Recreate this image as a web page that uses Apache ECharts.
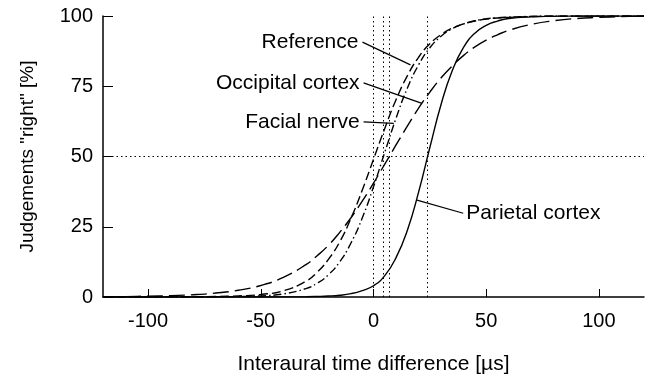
<!DOCTYPE html>
<html>
<head>
<meta charset="utf-8">
<script src="https://cdn.jsdelivr.net/npm/echarts@6/dist/echarts.min.js"></script>
<style>
  html, body { margin: 0; padding: 0; background: #fff; }
  #chart { width: 652px; height: 377px; }
</style>
</head>
<body>
<div id="chart"></div>
<script>
// interaural time difference (µs)
const itd = [-120, -110, -100, -90, -80, -70, -60, -50, -40, -30, -25, -20, -15, -10, -5, 0, 5, 10, 15, 20, 25, 30, 35, 40, 45, 50, 55, 60, 70, 80, 90, 100, 110, 120];

// judgements "right" (%)
const reference = [0, 0, 0, 0.05, 0.07, 0.17, 0.4, 0.9, 2.2, 5.6, 8.8, 13.4, 19.6, 28, 38, 49, 60, 70.2, 78.7, 85.3, 90.1, 93.4, 95.7, 97.2, 98.2, 98.9, 99.3, 99.5, 99.8, 100, 100, 100, 100, 100];
const occipital = [0.1, 0.15, 0.3, 0.5, 0.8, 1.4, 2.4, 4.1, 7, 11.5, 14.7, 18.4, 23, 28.2, 34.1, 40.5, 47.3, 54.1, 60.8, 67.2, 72.9, 78, 82.3, 86, 89, 91.4, 93.3, 94.9, 97, 98.3, 99.1, 99.5, 99.8, 100];
const facial = [0, 0, 0, 0, 0.02, 0.06, 0.15, 0.4, 1.1, 3, 4.9, 7.9, 12.5, 19.2, 28.1, 39.2, 51.5, 63.6, 74.3, 82.6, 88.7, 92.8, 95.5, 97.2, 98.3, 99, 99.4, 99.6, 99.9, 100, 100, 100, 100, 100];
const parietal = [0, 0, 0, 0, 0, 0, 0, 0, 0.03, 0.09, 0.18, 0.33, 0.62, 1.2, 2.3, 4, 7.6, 14, 23.7, 37.3, 53.2, 68.6, 80.7, 88.9, 93.9, 96.7, 98.2, 99.1, 99.7, 99.9, 100, 100, 100, 100];

// 50 % points marked with dotted lines
const thresholds = [0, 4.5, 7, 24];
const xTicks = [-100, -50, 0, 50, 100];

// curve labels with their leader lines (data coords)
const annotations = [
  { text: 'Reference', from: [-4.9, 90.7], to: [16.4, 82.6], side: 'left' },
  { text: 'Occipital cortex', from: [-4.4, 76.2], to: [21.5, 68.9], side: 'left' },
  { text: 'Facial nerve', from: [-4.4, 62.3], to: [9.0, 61.8], side: 'left' },
  { text: 'Parietal cortex', from: [39.8, 29.8], to: [19.3, 34.5], side: 'right' },
];

const FONT = '"Liberation Sans", Arial, sans-serif';
const pair = (vals) => itd.map((x, i) => [x, vals[i]]);

const curve = (name, vals, dash) => ({
  name,
  type: 'line',
  data: pair(vals),
  smooth: 0.5,
  showSymbol: false,
  silent: true,
  lineStyle: { color: '#000', width: 1.4, type: dash },
  z: 3,
});

const chart = echarts.init(document.getElementById('chart'));

const option = {
  animation: false,
  backgroundColor: '#fff',
  grid: { left: 103, right: 8, top: 16, bottom: 80, containLabel: false, outerBoundsMode: 'none' },
  xAxis: {
    type: 'value',
    min: -120,
    max: 120,
    name: 'Interaural time difference [µs]',
    nameLocation: 'middle',
    nameGap: 57,
    nameTextStyle: { fontFamily: FONT, fontSize: 21, color: '#000' },
    axisLine: { onZero: false, lineStyle: { color: '#000', width: 1.5 } },
    axisTick: { inside: true, length: 8, customValues: xTicks, lineStyle: { color: '#000', width: 1 } },
    axisLabel: { customValues: xTicks, margin: 14, fontFamily: FONT, fontSize: 20, color: '#000' },
    splitLine: { show: false },
  },
  yAxis: {
    type: 'value',
    min: 0,
    max: 100,
    interval: 25,
    name: 'Judgements "right" [%]',
    nameLocation: 'middle',
    nameGap: 66,
    nameTextStyle: { fontFamily: FONT, fontSize: 19, color: '#000' },
    axisLine: { show: true, onZero: false, lineStyle: { color: '#000', width: 1.5 } },
    axisTick: { show: true, inside: true, length: 10, lineStyle: { color: '#000', width: 1 } },
    axisLabel: { margin: 10, fontFamily: FONT, fontSize: 20, color: '#000' },
    splitLine: { show: false },
  },
  series: [
    curve('Reference', reference, [9, 4]),
    curve('Occipital cortex', occipital, [16, 6]),
    curve('Facial nerve', facial, [8, 3, 1.5, 3]),
    curve('Parietal cortex', parietal, 'solid'),
    {
      name: 'guides',
      type: 'line',
      data: [],
      silent: true,
      markLine: {
        silent: true,
        symbol: 'none',
        label: { show: false },
        lineStyle: { color: '#000', width: 1, type: [1.5, 3] },
        data: [{ yAxis: 50 }].concat(thresholds.map((v) => ({ xAxis: v }))),
      },
      z: 1,
    },
  ],
};

chart.setOption(option);

// label texts and leader lines placed through the axes
const graphics = [];
annotations.forEach(({ text, from, to, side }) => {
  const p1 = chart.convertToPixel({ gridIndex: 0 }, from);
  const p2 = chart.convertToPixel({ gridIndex: 0 }, to);
  graphics.push({
    type: 'line',
    shape: { x1: p1[0], y1: p1[1], x2: p2[0], y2: p2[1] },
    style: { stroke: '#000', lineWidth: 1.2 },
    silent: true,
    z: 10,
  });
  graphics.push({
    type: 'text',
    x: side === 'left' ? p1[0] - 4 : p1[0] + 3,
    y: p1[1],
    style: {
      text,
      fill: '#000',
      font: '21px ' + FONT,
      align: side === 'left' ? 'right' : 'left',
      verticalAlign: 'middle',
    },
    silent: true,
    z: 10,
  });
});
chart.setOption({ graphic: graphics });
</script>
</body>
</html>
